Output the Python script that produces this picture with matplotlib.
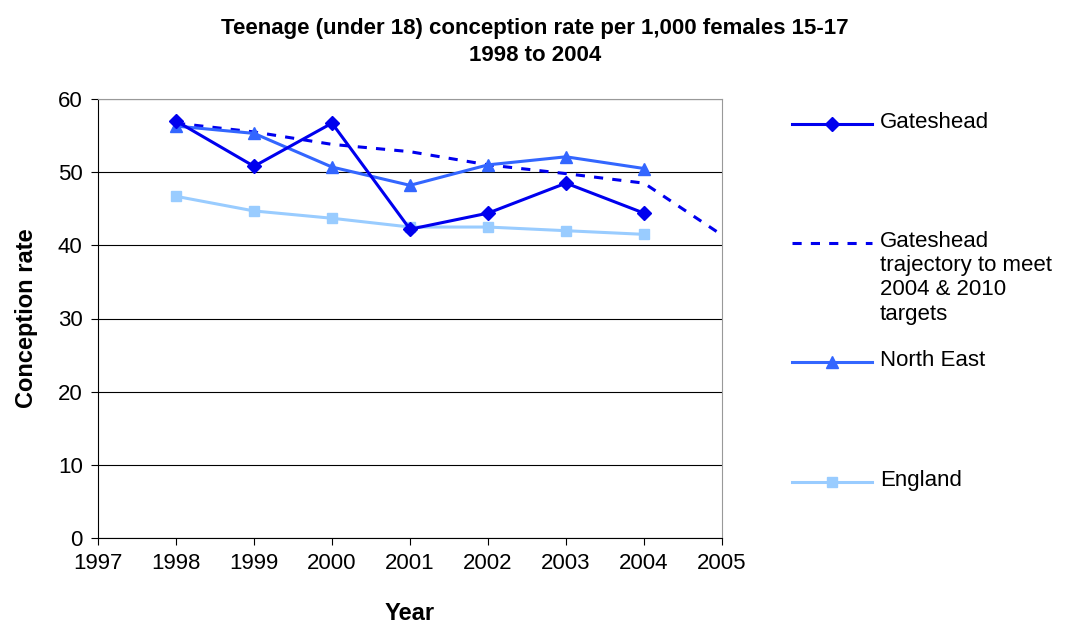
import matplotlib
matplotlib.use("Agg")
import matplotlib.pyplot as plt
from matplotlib.lines import Line2D

years = [1998, 1999, 2000, 2001, 2002, 2003, 2004]
traj_years = [1998, 1999, 2000, 2001, 2002, 2003, 2004, 2005]
gateshead = [57.0, 50.8, 56.7, 42.2, 44.4, 48.5, 44.4]
trajectory = [56.7, 55.5, 53.8, 52.8, 51.0, 49.8, 48.5, 41.4]
north_east = [56.3, 55.3, 50.7, 48.2, 51.0, 52.1, 50.5]
england = [46.7, 44.7, 43.7, 42.5, 42.5, 42.0, 41.5]
labels = ['Gateshead', 'Gateshead\ntrajectory to meet\n2004 & 2010\ntargets', 'North East', 'England']

plt.rcParams['font.family'] = ['Liberation Sans', 'DejaVu Sans']
W, H = 1086, 632
fig = plt.figure(figsize=(W/100, H/100), dpi=100)
ax = fig.add_axes([98/W, 1-538/H, 624/W, 439/H])

styles = [dict(color='#0000EE', marker='D', markersize=7, lw=2.2),
          dict(color='#0000EE', ls=(0, (3, 3)), lw=2.2),
          dict(color='#3366FF', marker='^', markersize=8, lw=2.2),
          dict(color='#99CCFF', marker='s', markersize=7, lw=2.2)]
ax.plot(years, gateshead, zorder=5, **styles[0])
ax.plot(traj_years, trajectory, zorder=4, **styles[1])
ax.plot(years, north_east, zorder=4, **styles[2])
ax.plot(years, england, zorder=3, **styles[3])

ax.set_xlim(1997, 2005)
ax.set_ylim(0, 60)
ax.set_xticks(range(1997, 2006))
ax.set_yticks(range(0, 61, 10))
ax.tick_params(labelsize=16, direction='out', length=5, pad=6)
ax.yaxis.grid(True, color='black', lw=0.8)
ax.set_axisbelow(True)
for s in ['top', 'right']:
    ax.spines[s].set_color('#999999')
ax.set_xlabel('Year', fontsize=17, fontweight='bold', labelpad=20)
ax.set_ylabel('Conception rate', fontsize=17, fontweight='bold', labelpad=14)
fig.text(535/W, 1-42/H, 'Teenage (under 18) conception rate per 1,000 females 15-17\n1998 to 2004',
         ha='center', va='center', fontsize=16, fontweight='bold', linespacing=1.35)

ys = [124, 243, 362, 482]
for y, st, lab in zip(ys, styles, labels):
    fig.add_artist(Line2D([792/W, 832/W, 872/W], [1-y/H]*3, transform=fig.transFigure,
                          markevery=[1] if 'marker' in st else None, **st))
    fig.text(880/W, 1-(y-12)/H, lab, ha='left', va='top', fontsize=16, linespacing=1.2)
fig.savefig('out.png', dpi=100)
